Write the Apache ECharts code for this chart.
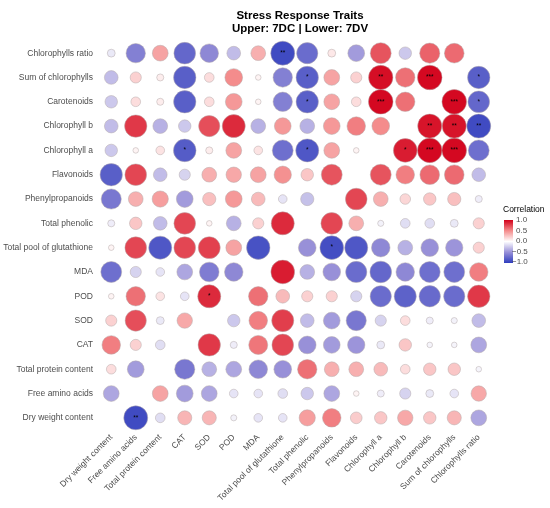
<!DOCTYPE html>
<html>
<head>
<meta charset="utf-8">
<script src="https://cdn.jsdelivr.net/npm/echarts@6/dist/echarts.min.js"></script>
<style>
html,body{margin:0;padding:0;background:#fff;}
#chart{width:550px;height:508px;}
</style>
</head>
<body>
<div id="chart"></div>
<script>
// trait order, left to right on x, bottom to top on y
var traits = ['Dry weight content','Free amino acids','Total protein content','CAT','SOD','POD','MDA',
	'Total pool of glutathione','Total phenolic','Phenylpropanoids','Flavonoids','Chlorophyll a',
	'Chlorophyll b','Carotenoids','Sum of chlorophylls','Chlorophylls ratio'];

// one row per trait (y), values in trait order (x); null = diagonal
var chlRatio = [-0.1,-0.6,0.4,-0.75,-0.55,-0.3,0.35,-0.92,-0.72,0.1,-0.45,0.7,-0.25,0.65,0.62,null];
var sumChl   = [-0.3,0.2,0.08,-0.8,0.15,0.5,0.05,-0.6,-0.8,0.4,0.2,0.95,0.6,0.97,null,-0.8];
var carot    = [-0.25,0.15,0.08,-0.8,0.15,0.45,0.05,-0.6,-0.8,0.4,0.15,0.97,0.6,null,0.97,-0.75];
var chlB     = [-0.3,0.8,-0.35,-0.25,0.72,0.85,-0.35,0.45,-0.35,0.45,0.55,0.5,null,0.93,0.93,-0.92];
var chlA     = [-0.25,0.05,0.12,-0.82,0.08,0.4,0.12,-0.7,-0.85,0.4,0.05,null,0.9,0.97,0.97,-0.7];
var flav     = [-0.8,0.75,-0.3,-0.2,0.35,0.38,0.4,0.48,0.25,0.7,null,0.7,0.55,0.62,0.62,-0.3];
var phenyl   = [-0.65,0.35,0.42,-0.45,0.28,0.45,0.3,-0.12,-0.28,null,0.75,0.35,0.18,0.25,0.28,-0.08];
var phenolic = [-0.08,0.25,-0.3,0.75,0.05,-0.35,0.2,0.85,null,0.75,0.35,-0.06,-0.15,-0.15,-0.1,0.2];
var glut     = [0.05,0.75,-0.85,0.75,0.77,0.4,-0.88,null,-0.5,-0.9,-0.85,-0.55,-0.35,-0.5,-0.48,0.2];
var mda      = [-0.7,-0.2,-0.12,-0.4,-0.62,-0.55,null,0.9,-0.35,-0.5,-0.72,-0.75,-0.55,-0.7,-0.7,0.55];
var pod      = [0.05,0.6,0.12,-0.12,0.85,null,0.6,0.3,0.2,0.2,-0.2,-0.72,-0.78,-0.73,-0.72,0.8];
var sod      = [0.2,0.72,-0.1,0.38,null,-0.25,0.55,0.78,-0.3,-0.45,-0.65,-0.2,0.15,-0.08,-0.06,-0.3];
var cat      = [0.55,0.2,-0.15,null,0.8,-0.08,0.58,0.75,-0.5,-0.45,-0.48,-0.1,0.25,-0.05,-0.05,-0.4];
var protein  = [0.15,-0.45,null,-0.65,-0.35,-0.4,-0.55,-0.5,0.6,0.35,0.35,0.3,0.15,0.25,0.25,-0.05];
var amino    = [-0.4,null,0.4,-0.45,-0.4,-0.12,-0.12,-0.15,-0.25,-0.4,0.05,-0.08,-0.2,-0.1,-0.12,0.38];
var dryWt    = [null,-0.92,-0.15,0.32,0.32,-0.06,-0.12,-0.12,0.42,0.55,0.22,0.25,0.38,0.25,0.32,-0.4];

// rows in trait order (bottom to top)
var rows = [dryWt,amino,protein,cat,sod,pod,mda,glut,phenolic,phenyl,flav,chlA,chlB,carot,sumChl,chlRatio];

// significance marks [x trait, y trait, mark]
var stars = [
	['Total pool of glutathione','Chlorophylls ratio','**'],
	['Total phenolic','Sum of chlorophylls','*'],
	['Chlorophyll a','Sum of chlorophylls','**'],
	['Carotenoids','Sum of chlorophylls','***'],
	['Chlorophylls ratio','Sum of chlorophylls','*'],
	['Total phenolic','Carotenoids','*'],
	['Chlorophyll a','Carotenoids','***'],
	['Sum of chlorophylls','Carotenoids','***'],
	['Chlorophylls ratio','Carotenoids','*'],
	['Carotenoids','Chlorophyll b','**'],
	['Sum of chlorophylls','Chlorophyll b','**'],
	['Chlorophylls ratio','Chlorophyll b','**'],
	['CAT','Chlorophyll a','*'],
	['Total phenolic','Chlorophyll a','*'],
	['Chlorophyll b','Chlorophyll a','*'],
	['Carotenoids','Chlorophyll a','***'],
	['Sum of chlorophylls','Chlorophyll a','***'],
	['Phenylpropanoids','Total pool of glutathione','*'],
	['SOD','POD','*'],
	['Free amino acids','Dry weight content','**']
];

var FONT = 'Liberation Sans, Arial, sans-serif';

function starOf(x, y){
	for(var i = 0; i < stars.length; i++){
		if(stars[i][0] == x && stars[i][1] == y) return stars[i][2];
	}
	return '';
}

var points = [];
for(var r = 0; r < rows.length; r++){
	for(var c = 0; c < traits.length; c++){
		var v = rows[r][c];
		if(v == null) continue;
		points.push([traits[c], traits[r], v, starOf(traits[c], traits[r])]);
	}
}

var chart = echarts.init(document.getElementById('chart'));
chart.setOption({
	backgroundColor: '#fff',
	animation: false,
	title: {
		text: 'Stress Response Traits\nUpper: 7DC | Lower: 7DV',
		left: 295,
		top: 4,
		textAlign: 'center',
		textStyle: {
			fontFamily: FONT,
			fontSize: 11.5,
			fontWeight: 'bold',
			color: '#000',
			lineHeight: 13
		}
	},
	grid: {
		left: 99,
		top: 41,
		width: 392,
		height: 389
	},
	xAxis: {
		type: 'category',
		data: traits,
		axisLine: {show: false},
		axisTick: {show: false},
		splitLine: {show: false},
		axisLabel: {
			rotate: 45,
			interval: 0,
			margin: 6,
			fontFamily: FONT,
			fontSize: 8.5,
			color: '#4d4d4d'
		}
	},
	yAxis: {
		type: 'category',
		data: traits,
		axisLine: {show: false},
		axisTick: {show: false},
		splitLine: {show: false},
		axisLabel: {
			interval: 0,
			margin: 6,
			fontFamily: FONT,
			fontSize: 8.5,
			color: '#4d4d4d'
		}
	},
	visualMap: {
		show: false,
		type: 'continuous',
		min: -1,
		max: 1,
		dimension: 2,
		inRange: {
			color: ['#2F3EBE','#9890D8','#ffffff','#F48C8C','#D2001A']
		}
	},
	series: [
		{
			type: 'scatter',
			data: points,
			symbolSize: function(val){
				return 25 * Math.sqrt(Math.abs(val[2]));
			},
			itemStyle: {
				opacity: 1,
				borderColor: '#b5aaaa',
				borderWidth: 0.5
			},
			label: {
				show: true,
				position: 'inside',
				formatter: function(p){ return p.value[3]; },
				fontFamily: FONT,
				fontSize: 6.5,
				color: '#000'
			},
			emphasis: {disabled: true}
		}
	],
	graphic: [
		{
			type: 'text',
			left: 503,
			top: 205,
			style: {text: 'Correlation', font: '8.5px ' + FONT, fill: '#000'}
		},
		{
			type: 'rect',
			left: 504,
			top: 220,
			shape: {width: 9, height: 43},
			style: {
				fill: new echarts.graphic.LinearGradient(0, 0, 0, 1, [
					{offset: 0, color: '#D2001A'},
					{offset: 0.25, color: '#F48C8C'},
					{offset: 0.5, color: '#ffffff'},
					{offset: 0.75, color: '#9890D8'},
					{offset: 1, color: '#2F3EBE'}
				])
			}
		},
		{type: 'text', left: 516, top: 216, style: {text: '1.0', font: '8px ' + FONT, fill: '#4d4d4d'}},
		{type: 'text', left: 516, top: 226.5, style: {text: '0.5', font: '8px ' + FONT, fill: '#4d4d4d'}},
		{type: 'text', left: 516, top: 237, style: {text: '0.0', font: '8px ' + FONT, fill: '#4d4d4d'}},
		{type: 'text', left: 512, top: 247.5, style: {text: '\u22120.5', font: '8px ' + FONT, fill: '#4d4d4d'}},
		{type: 'text', left: 512, top: 258, style: {text: '\u22121.0', font: '8px ' + FONT, fill: '#4d4d4d'}}
	]
});
</script>
</body>
</html>
